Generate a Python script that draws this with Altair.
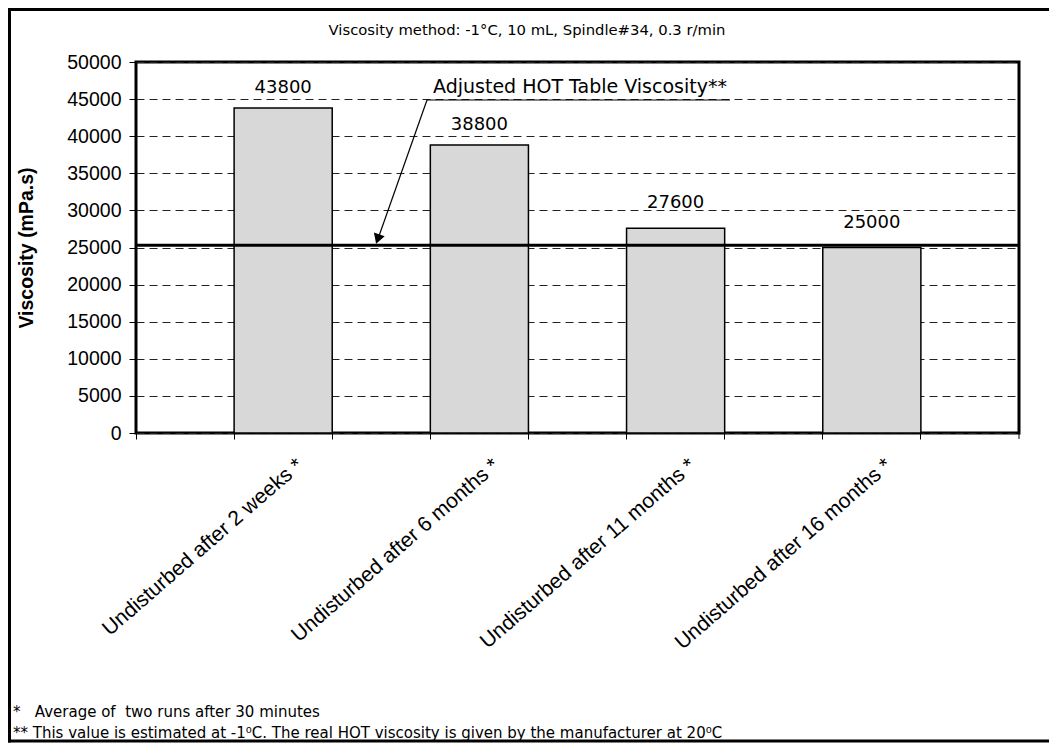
import altair as alt
import pandas as pd

# ---- data ----
categories = [
    "Undisturbed after 2 weeks *",
    "Undisturbed after 6 months *",
    "Undisturbed after 11 months *",
    "Undisturbed after 16 months *",
]
viscosity = [43800, 38800, 27600, 25000]
slots = ["gap0", categories[0], "gap1", categories[1], "gap2", categories[2], "gap3", categories[3], "gap4"]
y_ticks = [0, 5000, 10000, 15000, 20000, 25000, 30000, 35000, 40000, 45000, 50000]
hot_table_value = [25300]
title_text = ["Viscosity method: -1°C, 10 mL, Spindle#34, 0.3 r/min"]
annotation_text = ["Adjusted HOT Table Viscosity**"]
y_title = "Viscosity (mPa.s)"
footnotes = [
    "*\u00a0\u00a0\u00a0Average of\u00a0\u00a0two runs after 30 minutes",
    "**\u00a0This value is estimated at -1⁰C. The real HOT viscosity is given by the manufacturer at 20⁰C",
]

W, H = 883, 371
VERD = "DejaVu Sans"
ARIAL = "Liberation Sans"

df = pd.DataFrame({"slot": categories, "viscosity": viscosity})

x_enc = alt.X(
    "slot:N",
    sort=slots,
    scale=alt.Scale(domain=slots, paddingInner=0, paddingOuter=0),
    axis=alt.Axis(
        title=None, domain=False, bandPosition=0, ticks=True, tickSize=6,
        tickColor="black", tickWidth=1, labelAngle=319, labelAlign="right",
        labelBaseline="top", labelOffset=10, labelPadding=15, labelFont=ARIAL,
        labelFontSize=21, labelColor="black", labelLimit=0, labelOverlap=False,
        labelFlush=False, grid=False,
        labelExpr="indexof(datum.label, 'gap') == 0 ? '' : datum.label",
    ),
)
y_enc = alt.Y(
    "viscosity:Q",
    scale=alt.Scale(domain=[0, 50000], nice=False, zero=True),
    axis=alt.Axis(
        values=y_ticks, format="d", domain=False, tickSize=7, tickColor="black",
        tickWidth=1, labelFont=ARIAL, labelFontSize=19.5, labelColor="black",
        labelPadding=8, grid=True, gridColor="#222222", gridDash=[8, 5],
        gridWidth=1, title=y_title, titleFont=ARIAL, titleFontSize=19.5,
        titleFontWeight="bold", titleColor="black", titleX=-110, titleY=H / 2,
        titleAngle=270, titleAlign="center", titleBaseline="middle",
    ),
)

bars = alt.Chart(df).mark_bar(fill="#d8d8d8", stroke="black", strokeWidth=1.5).encode(
    x=x_enc, y=y_enc
)

labels_hi = alt.Chart(df).transform_filter("datum.viscosity > 30000").mark_text(
    font=VERD, fontSize=18, baseline="alphabetic", dy=-15, color="black"
).encode(x=x_enc, y=y_enc, text="viscosity:Q")
labels_lo = alt.Chart(df).transform_filter("datum.viscosity <= 30000").mark_text(
    font=VERD, fontSize=18, baseline="alphabetic", dy=-20, color="black"
).encode(x=x_enc, y=y_enc, text="viscosity:Q")

ref_line = alt.Chart(pd.DataFrame({"viscosity": hot_table_value})).mark_rule(
    color="black", strokeWidth=3
).encode(y=y_enc)

one = pd.DataFrame({"k": [0]})
end_tick = alt.Chart(one).mark_rule(color="black", strokeWidth=1).encode(
    x=alt.value(W), y=alt.value(H), y2=alt.value(H + 6)
)

title = alt.Chart(pd.DataFrame({"t": title_text})).mark_text(
    font=VERD, fontSize=14.8, align="center", baseline="alphabetic", color="black"
).encode(text="t:N", x=alt.value(391), y=alt.value(-27))

ann_text = alt.Chart(pd.DataFrame({"t": annotation_text})).mark_text(
    font=VERD, fontSize=19, align="left", baseline="alphabetic", color="black"
).encode(text="t:N", x=alt.value(297), y=alt.value(31))

underline = alt.Chart(one).mark_rule(color="black", strokeWidth=1.2).encode(
    x=alt.value(291), x2=alt.value(594), y=alt.value(38), y2=alt.value(38)
)
arrow_line = alt.Chart(one).mark_rule(color="black", strokeWidth=1.2).encode(
    x=alt.value(291), x2=alt.value(243), y=alt.value(38), y2=alt.value(174)
)
arrow_head = alt.Chart(one).mark_point(
    shape="triangle-down", filled=True, color="black", opacity=1, size=130, angle=19
).encode(x=alt.value(241.7), y=alt.value(177))

foot_df = pd.DataFrame({"t": footnotes, "row": [0, 1]})
foot1 = alt.Chart(foot_df).transform_filter("datum.row == 0").mark_text(
    font=VERD, fontSize=15, align="left", baseline="alphabetic", color="black"
).encode(text="t:N", x=alt.value(-123), y=alt.value(655))
foot2 = alt.Chart(foot_df).transform_filter("datum.row == 1").mark_text(
    font=VERD, fontSize=15, align="left", baseline="alphabetic", color="black"
).encode(text="t:N", x=alt.value(-123), y=alt.value(676))

# outer frame (left, top, bottom edges; right edge lies beyond the picture)
frame_top = alt.Chart(one).mark_rule(color="black", strokeWidth=3).encode(
    x=alt.value(-128), x2=alt.value(960), y=alt.value(-52.5), y2=alt.value(-52.5)
)
frame_bottom = alt.Chart(one).mark_rule(color="black", strokeWidth=3).encode(
    x=alt.value(-128), x2=alt.value(960), y=alt.value(679), y2=alt.value(679)
)
frame_left = alt.Chart(one).mark_rule(color="black", strokeWidth=3).encode(
    x=alt.value(-126.5), y=alt.value(-54), y2=alt.value(680.5)
)

chart = alt.layer(
    bars, ref_line, labels_hi, labels_lo, end_tick, title, ann_text, underline,
    arrow_line, arrow_head, foot1, foot2, frame_top, frame_bottom, frame_left,
).properties(
    width=W, height=H,
    autosize=alt.AutoSizeParams(type="none"),
    padding={"left": 128, "top": 54, "right": 30, "bottom": 310},
    background="white",
).configure_view(stroke="black", strokeWidth=3)

chart.save("out.html", embed_options={"renderer": "svg", "actions": False})
